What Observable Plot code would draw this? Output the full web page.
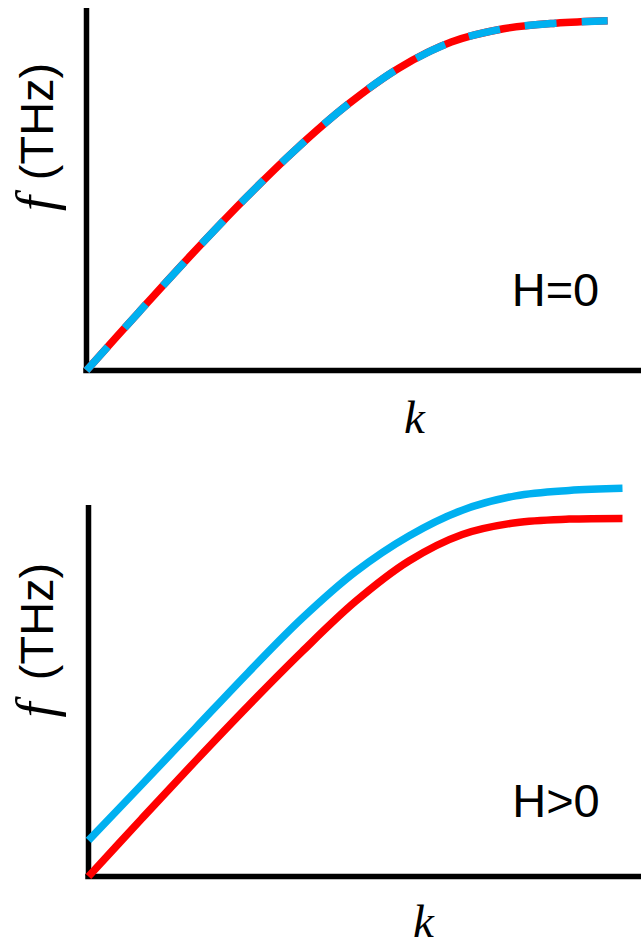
<!DOCTYPE html>
<html>
<head>
<meta charset="utf-8">
<script src="https://cdn.jsdelivr.net/npm/d3@7"></script>
<script src="https://cdn.jsdelivr.net/npm/@observablehq/plot@0.6"></script>
<style>
  html, body { margin: 0; padding: 0; background: #fff; }
  #chart svg { display: block; }
</style>
</head>
<body>
<div id="chart"></div>
<script>
// ---- Data (normalized units) ----
const kGrid     = [0, 0.1, 0.2, 0.3, 0.4, 0.5, 0.6, 0.7, 0.8, 0.9, 1.0];

// Top panel: H = 0 (both modes degenerate)
const fTopRed   = [0, 0.166, 0.329, 0.485, 0.630, 0.759, 0.865, 0.939, 0.977, 0.993, 1.0];
const fTopBlue  = [0, 0.166, 0.329, 0.485, 0.630, 0.759, 0.865, 0.939, 0.977, 0.993, 1.0];

// Bottom panel: H > 0 (modes split)
const fBotRed   = [0, 0.162, 0.322, 0.478, 0.628, 0.768, 0.881, 0.955, 0.988, 0.998, 1.0];
const fBotBlue  = [0.101, 0.257, 0.414, 0.571, 0.721, 0.851, 0.951, 1.023, 1.063, 1.078, 1.084];

// Labels
const xLabel = "k";
const yLabelVar = "f";
const yLabelUnit = "(THz)";
const panelLabels = ["H=0", "H>0"];

// ---- Styles ----
const RED = "#FF0000";
const BLUE = "#00B0F0";
const SANS = "Liberation Sans, Arial, sans-serif";
const SERIF = "Liberation Serif, Times New Roman, serif";

const toRows = (ks, fs) => ks.map((k, i) => ({k, f: fs[i]}));

function axisMarks() {
  return [
    Plot.ruleX([0], {stroke: "black", strokeWidth: 5.5}),
    Plot.ruleY([0], {stroke: "black", strokeWidth: 5.5, strokeLinecap: "square"})
  ];
}

const lineStyle = {x: "k", y: "f", strokeWidth: 7.5, curve: "catmull-rom", strokeLinecap: "butt", strokeLinejoin: "round"};

function labelMarks(o) {
  return [
    Plot.text([xLabel], {text: d => d, frameAnchor: "bottom", dx: o.kdx, dy: o.kdy, lineAnchor: "bottom",
      fontSize: 47, fontFamily: SERIF, fontStyle: "italic", fill: "black"}),
    Plot.text([o.panel], {text: d => d, frameAnchor: "bottom", dx: o.hdx, dy: o.hdy, lineAnchor: "bottom",
      fontSize: 47, fontFamily: SANS, fill: "black"}),
    Plot.text([yLabelUnit], {text: d => d, frameAnchor: "left", dx: o.ydx, dy: o.udy, rotate: -90,
      lineAnchor: "bottom", textAnchor: "middle", fontSize: 47, fontFamily: SANS, fill: "black"}),
    Plot.text([yLabelVar], {text: d => d, frameAnchor: "left", dx: o.ydx + 1, dy: o.fdy, rotate: -90,
      lineAnchor: "bottom", textAnchor: "middle", fontSize: 54, fontFamily: SERIF, fontStyle: "italic", fill: "black"})
  ];
}

const topPanel = Plot.plot({
  width: 641, height: 470,
  marginLeft: 86, marginRight: 0, marginTop: 8, marginBottom: 100,
  x: {domain: [0, 1.065], axis: null},
  y: {domain: [0, 1.035], axis: null},
  style: {background: "white"},
  marks: [
    ...axisMarks(),
    Plot.line(toRows(kGrid, fTopRed), {...lineStyle, stroke: RED}),
    Plot.line(toRows(kGrid, fTopBlue), {...lineStyle, stroke: BLUE, strokeDasharray: "32,25"}),
    ...labelMarks({panel: panelLabels[0], kdx: 50.5, kdy: 62, hdx: 191.5, hdy: -65, ydx: -34, udy: -68, fdy: 14})
  ]
});

const bottomPanel = Plot.plot({
  width: 641, height: 471,
  marginLeft: 88, marginRight: 0, marginTop: 35, marginBottom: 65,
  x: {domain: [0, 1.0356], axis: null},
  y: {domain: [0, 1.036], axis: null},
  style: {background: "white"},
  marks: [
    ...axisMarks(),
    Plot.line(toRows(kGrid, fBotBlue), {...lineStyle, stroke: BLUE}),
    Plot.line(toRows(kGrid, fBotRed), {...lineStyle, stroke: RED}),
    ...labelMarks({panel: panelLabels[1], kdx: 58.5, kdy: 60, hdx: 191, hdy: -60, ydx: -36, udy: -69.5, fdy: 19})
  ]
});

const chart = document.getElementById("chart");
chart.appendChild(topPanel);
chart.appendChild(bottomPanel);
</script>
</body>
</html>
